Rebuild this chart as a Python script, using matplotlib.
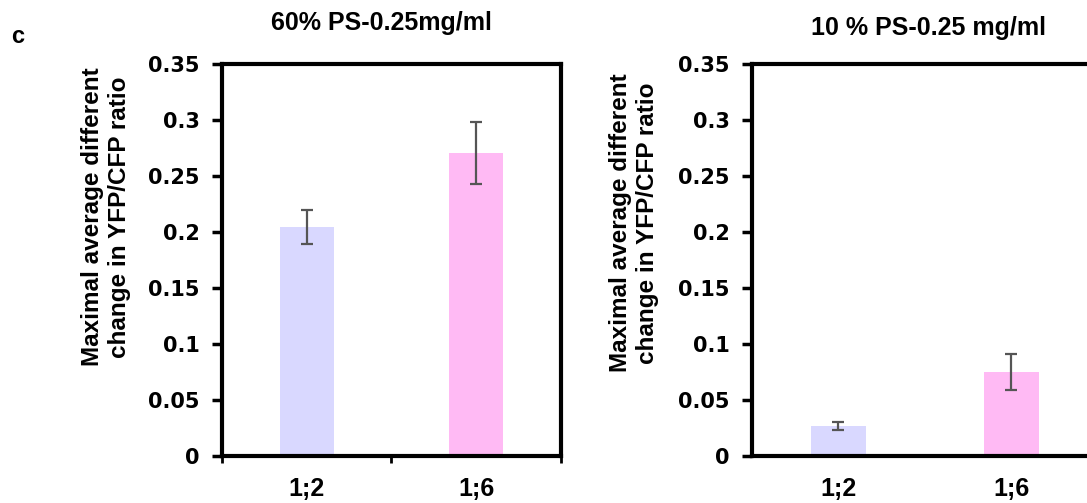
import matplotlib.pyplot as plt

plt.rcParams["font.family"] = ["Liberation Sans", "DejaVu Sans"]
plt.rcParams["font.weight"] = "bold"

ratios = ["1;2", "1;6"]
ps60_means = [0.2045, 0.2703]
ps60_err = [0.0149, 0.0276]
ps10_means = [0.0268, 0.0750]
ps10_err = [0.0037, 0.0163]
yticks = [0, 0.05, 0.1, 0.15, 0.2, 0.25, 0.3, 0.35]
ytick_labels = ["0", "0.05", "0.1", "0.15", "0.2", "0.25", "0.3", "0.35"]

bar_colors = ["#d9d8ff", "#ffbaf4"]
ylabel = "Maximal average different\nchange in YFP/CFP ratio"

fig = plt.figure(figsize=(10.87, 5.03), dpi=100)


def draw_panel(ax, means, errs, xticks_on):
	x = range(len(means))
	ax.bar(x, means, width=0.32, color=bar_colors, zorder=1)
	ax.errorbar(x, means, yerr=errs, fmt="none", ecolor="#555555",
		elinewidth=1.6, capsize=4.5, capthick=1.6, zorder=2)
	ax.set_xlim(-0.5, 1.5)
	ax.set_ylim(0, 0.35)
	ax.set_yticks(yticks)
	# wide face for the value labels
	ax.set_yticklabels(ytick_labels, fontsize=15, fontweight="bold",
		family="DejaVu Sans")
	ax.tick_params(axis="y", direction="out", length=7, width=2.5, pad=9)
	if xticks_on:
		ax.set_xticks([-0.5, 0.5, 1.5])
		ax.set_xticklabels([])
		ax.tick_params(axis="x", direction="out", length=5, width=2)
	else:
		ax.set_xticks([])
	for name, sp in ax.spines.items():
		sp.set_linewidth(3)
		sp.set_color("black")
	# category names sit under the bars, not on the ticks
	for xi, lab in zip(x, ratios):
		ax.text(xi, -0.029, lab, ha="center", va="center", fontsize=18,
			fontweight="bold", clip_on=False)


ax1 = fig.add_axes([0.2042, 0.0934, 0.3119, 0.7794])
draw_panel(ax1, ps60_means, ps60_err, True)

ax2 = fig.add_axes([0.6918, 0.0934, 0.3183, 0.7794])
draw_panel(ax2, ps10_means, ps10_err, False)

fig.text(106 / 1087, 1 - 217 / 503, ylabel, rotation=90, ha="center", va="center",
	fontsize=17.5, fontweight="bold", linespacing=1.25)
fig.text(634 / 1087, 1 - 223 / 503, ylabel, rotation=90, ha="center", va="center",
	fontsize=17.5, fontweight="bold", linespacing=1.25)

fig.text(381.5 / 1087, 1 - 30 / 503, "60% PS-0.25mg/ml", ha="center", va="baseline",
	fontsize=18, fontweight="bold")
fig.text(928.5 / 1087, 1 - 35 / 503, "10 % PS-0.25 mg/ml", ha="center", va="baseline",
	fontsize=18, fontweight="bold")
fig.text(18 / 1087, 1 - 43 / 503, "c", ha="center", va="baseline",
	fontsize=17, fontweight="bold")

fig.savefig("out.png", dpi=100)
